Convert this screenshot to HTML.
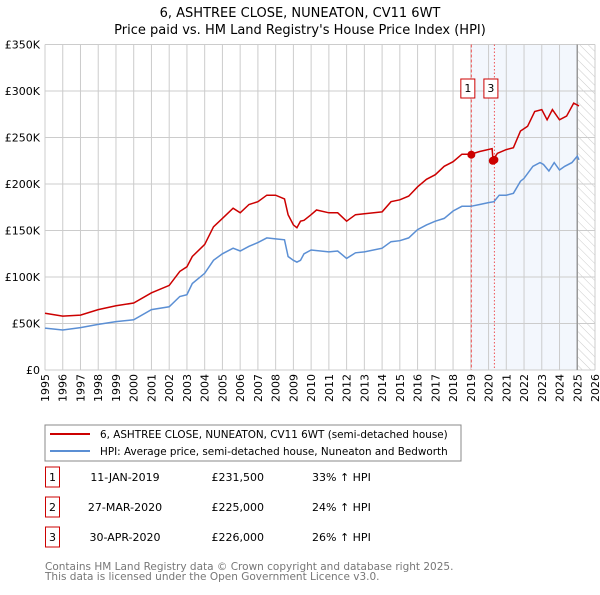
<!DOCTYPE html>
<html><head><meta charset="utf-8"><style>
body{margin:0;background:#fff;font-family:"Liberation Sans","DejaVu Sans",sans-serif}
svg text{font-family:"DejaVu Sans","Liberation Sans",sans-serif}
</style></head><body>
<svg id="c" width="600" height="590" viewBox="0 0 600 590" xmlns="http://www.w3.org/2000/svg">
<text x="300" y="17" text-anchor="middle" font-size="13">6, ASHTREE CLOSE, NUNEATON, CV11 6WT</text>
<text x="300" y="34" text-anchor="middle" font-size="13">Price paid vs. HM Land Registry's House Price Index (HPI)</text>
<defs><pattern id="hatch" width="6" height="6" patternUnits="userSpaceOnUse" patternTransform="rotate(-45)"><line x1="0" y1="0" x2="0" y2="6" stroke="#ccc" stroke-width="1"/></pattern></defs>
<g id="plot"></g>
<rect x="45" y="425" width="416" height="36" fill="#fff" stroke="#888"/>
<line x1="50" y1="434" x2="90" y2="434" stroke="#cc0000" stroke-width="2"/>
<text x="100" y="438" font-size="10.4">6, ASHTREE CLOSE, NUNEATON, CV11 6WT (semi-detached house)</text>
<line x1="50" y1="451" x2="90" y2="451" stroke="#5b8fd4" stroke-width="2"/>
<text x="100" y="455" font-size="10.4">HPI: Average price, semi-detached house, Nuneaton and Bedworth</text>
<g id="table" font-size="11"></g>
<text x="45" y="570" font-size="10.5" fill="#777">Contains HM Land Registry data © Crown copyright and database right 2025.</text>
<text x="45" y="580" font-size="10.5" fill="#777">This data is licensed under the Open Government Licence v3.0.</text>
</svg>
<script>
const yTicks=[0,50000,100000,150000,200000,250000,300000,350000];
const yTickLabels=["£0","£50K","£100K","£150K","£200K","£250K","£300K","£350K"];
const xYears=[1995,1996,1997,1998,1999,2000,2001,2002,2003,2004,2005,2006,2007,2008,2009,2010,2011,2012,2013,2014,2015,2016,2017,2018,2019,2020,2021,2022,2023,2024,2025,2026];
const hpiDates=[1995,1996,1997,1998,1999,2000,2001,2002,2002.6,2003,2003.3,2004,2004.5,2005,2005.6,2006,2006.5,2007,2007.5,2008,2008.5,2008.7,2009,2009.2,2009.4,2009.6,2010,2011,2011.5,2012,2012.5,2013,2014,2014.5,2015,2015.5,2016,2016.5,2017,2017.5,2018,2018.5,2019,2019.5,2020,2020.3,2020.6,2021,2021.4,2021.8,2022,2022.5,2022.9,2023.1,2023.4,2023.7,2024,2024.3,2024.7,2025,2025.1];
const hpiValues=[45000,43000,45600,49000,52000,54000,65000,68000,79000,81000,93000,104000,118000,125000,131000,128000,133000,137000,142000,141000,140000,122000,118000,116000,118000,125000,129000,127000,128000,120000,126000,127000,131000,138000,139000,142000,151000,156000,160000,163000,171000,176000,176000,178000,180000,181000,188000,188000,190000,203000,206000,219000,223000,221000,214000,223000,215000,219000,223000,230000,226000];
const propDates=[1995,1996,1997,1998,1999,2000,2001,2002,2002.6,2003,2003.3,2004,2004.5,2005,2005.6,2006,2006.5,2007,2007.5,2008,2008.5,2008.7,2009,2009.2,2009.4,2009.6,2010,2010.3,2011,2011.5,2012,2012.5,2013,2014,2014.5,2015,2015.5,2016,2016.5,2017,2017.5,2018,2018.5,2019,2019.5,2020.2,2020.25,2020.5,2021,2021.4,2021.8,2022.2,2022.6,2023,2023.3,2023.6,2024,2024.4,2024.8,2025.1];
const propValues=[61000,58000,59000,65000,69000,72000,83000,91000,106000,111000,122000,135000,154000,163000,174000,169000,178000,181000,188000,188000,184000,167000,156000,153000,160000,161000,167000,172000,169000,169000,160000,167000,168000,170000,181000,183000,187000,197000,205000,210000,219000,224000,232000,232000,235000,238000,226000,233000,237000,239000,257000,262000,278000,280000,269000,280000,269000,273000,287000,284000];
const saleDates=[2019.03,2020.24,2020.33];
const saleValues=[231500,225000,226000];
const saleLabels=["1","2","3"];
const saleDateText=["11-JAN-2019","27-MAR-2020","30-APR-2020"];
const salePriceText=["£231,500","£225,000","£226,000"];
const saleHpiText=["33% ↑ HPI","24% ↑ HPI","26% ↑ HPI"];

const X0=45,X1=595,Y0=370,Y1=44.5;
const xs=d=>X0+(d-1995)/(2026-1995)*(X1-X0);
const ys=v=>Y0-v/350000*(Y0-Y1);
const NS="http://www.w3.org/2000/svg";
function mk(tag,attrs,parent,txt){const e=document.createElementNS(NS,tag);for(const k in attrs)e.setAttribute(k,attrs[k]);if(txt!==undefined)e.textContent=txt;parent.appendChild(e);return e;}
const g=document.getElementById('plot');
let e;
e=mk('rect',{x:X0,y:Y1,width:X1-X0,height:Y0-Y1,fill:'#fff'},g);


e=mk('rect',{x:xs(saleDates[0]),y:Y1,width:xs(2025)-xs(saleDates[0]),height:Y0-Y1,fill:'#eef3fc',opacity:0.7},g);


e=mk('rect',{x:xs(2025),y:Y1,width:X1-xs(2025),height:Y0-Y1,fill:'url(#hatch)'},g);


xYears.forEach(yr=>{
  e=mk('line',{x1:xs(yr),x2:xs(yr),y1:Y1,y2:Y0,stroke:'#ccc','stroke-width':1},g);
  
  
  e=mk('text',{x:0,y:0,transform:`translate(${xs(yr)+4},${Y0+4}) rotate(-90)`,'text-anchor':'end','font-size':11},g,String(yr));
  
  
});
yTicks.forEach((v,i)=>{
  e=mk('line',{x1:X0,x2:X1,y1:ys(v),y2:ys(v),stroke:'#ccc','stroke-width':1},g);
  
  
  e=mk('text',{x:40,y:ys(v)+4,'text-anchor':'end','font-size':11},g,yTickLabels[i]);
  
  
});
e=mk('line',{x1:xs(2025),x2:xs(2025),y1:Y1,y2:Y0,stroke:'#999','stroke-width':1.5},g);


[0,2].forEach(i=>{
  e=mk('line',{x1:xs(saleDates[i]),x2:xs(saleDates[i]),y1:Y1,y2:Y0,stroke:'#e55',"stroke-width":1,"stroke-dasharray":i==0?'3,2':'1.5,2'},g);
  
  
});
function pts(d,v){return d.map((x,i)=>xs(x).toFixed(1)+','+ys(v[i]).toFixed(1)).join(' ');}
e=mk('polyline',{points:pts(hpiDates,hpiValues),fill:'none',stroke:'#5b8fd4','stroke-width':1.5},g);


e=mk('polyline',{points:pts(propDates,propValues),fill:'none',stroke:'#cc0000','stroke-width':1.5},g);


saleDates.forEach((d,i)=>{
  e=mk('circle',{cx:xs(d),cy:ys(saleValues[i]),r:4,fill:'#cc0000'},g);
  
  
});
[0,2].forEach(i=>{
  const cx=xs(saleDates[i])-3.5;
  e=mk('rect',{x:cx-7,y:79,width:14,height:19,fill:'#fff',stroke:'#cc0000'},g);
  
  
  e=mk('text',{x:cx,y:92,'text-anchor':'middle','font-size':11},g,saleLabels[i]);
  
  
});
const t=document.getElementById('table');
saleLabels.forEach((l,i)=>{
  const y=483+i*30;
  e=mk('rect',{x:45.5,y:y-16,width:14,height:20,fill:'#fff',stroke:'#cc0000'},t);
  
  
  e=mk('text',{x:52.5,y:y-2,'text-anchor':'middle'},t,l);
  
  
  e=mk('text',{x:125,y:y-2,'text-anchor':'middle'},t,saleDateText[i]);
  
  
  e=mk('text',{x:264,y:y-2,'text-anchor':'end'},t,salePriceText[i]);
  
  
  e=mk('text',{x:312,y:y-2},t,saleHpiText[i]);
  
  
});
</script>
</body></html>
